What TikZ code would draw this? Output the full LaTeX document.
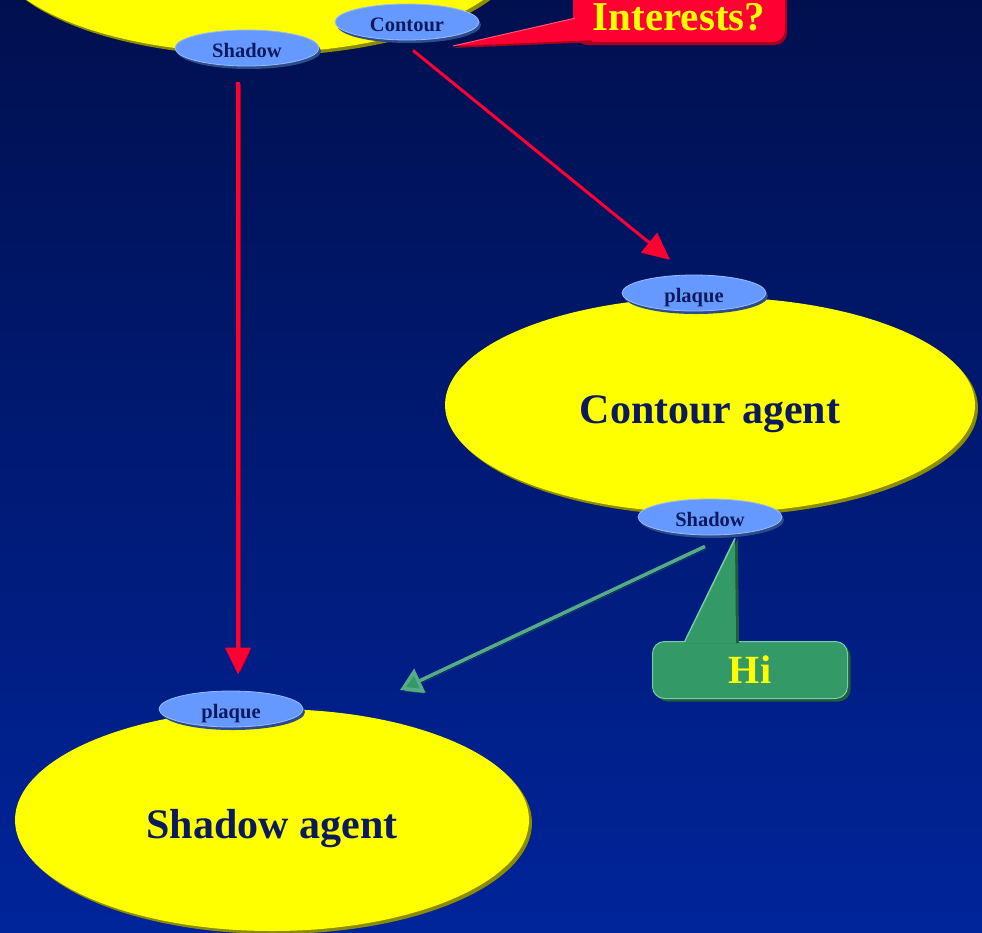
\documentclass[tikz,border=0pt]{standalone}
\usepackage{fontspec}
\setmainfont{Liberation Serif}
\usetikzlibrary{shapes.geometric,shadows,arrows.meta,calc}
\definecolor{bgtop}{HTML}{00104F}
\definecolor{bgbot}{HTML}{00249A}
\definecolor{agentyellow}{HTML}{FFFF00}
\definecolor{agentshade}{HTML}{8C8C00}
\definecolor{portblue}{HTML}{6699FF}
\definecolor{portlight}{HTML}{99BBFF}
\definecolor{portshade}{HTML}{2D4C8C}
\definecolor{inknavy}{HTML}{0B1A5C}
\definecolor{calloutred}{HTML}{FF0033}
\definecolor{redlight}{HTML}{FF5577}
\definecolor{redshade}{HTML}{A8001F}
\definecolor{calloutgreen}{HTML}{339966}
\definecolor{greenshade}{HTML}{1E5C3C}
\definecolor{greenlight}{HTML}{77CCAA}
\definecolor{greenline}{HTML}{55AA88}
\definecolor{textyellow}{HTML}{FFFF00}

\begin{document}
\begin{tikzpicture}[x=1pt,y=-1pt,
  agent/.style = {ellipse, fill=agentyellow, inner sep=0pt,
    text=inknavy, font=\fontsize{42}{50}\selectfont\bfseries,
    text height=37pt, text depth=0pt,
    drop shadow={shadow xshift=3pt, shadow yshift=-3pt, fill=agentshade, opacity=1}},
  port/.style = {ellipse, fill=portblue, draw=portlight, line width=0.8pt,
    minimum width=144pt, minimum height=36pt, inner sep=0pt,
    text=inknavy, font=\fontsize{20.5}{24}\selectfont\bfseries,
    text height=18pt, text depth=0pt,
    drop shadow={shadow xshift=2pt, shadow yshift=-3pt, fill=portshade, opacity=1}},
  redlink/.style = {draw=calloutred, line width=4pt,
    -{Triangle[length=27pt,width=25pt]},
    preaction={draw=redshade, transform canvas={xshift=2pt,yshift=-2pt}}},
  greenlink/.style = {draw=greenline, line width=3.5pt,
    -{Triangle[length=22pt,width=26pt,fill=calloutgreen]},
    preaction={draw=greenshade, transform canvas={xshift=1.5pt,yshift=-2.5pt}}},
  callout/.style = {rectangle, rounded corners=12pt, inner sep=0pt,
    text=textyellow, font=\fontsize{41}{48}\selectfont\bfseries}]

  \useasboundingbox (0,0) rectangle (982,932);
  \clip (0,0) rectangle (982,932);
  \shade[top color=bgtop, bottom color=bgbot] (0,0) rectangle (982,932);

  % agents
  \node[agent, minimum width=530pt, minimum height=216pt] (topagent) at (255,-55) {};
  \node[agent, minimum width=530pt, minimum height=216pt] (cagent) at (710,405) {Contour agent};
  \node[agent, minimum width=514pt, minimum height=222pt] (sagent) at (272,820) {Shadow agent};

  % ports
  \node[port] (tshadow)  at (247,48)  {Shadow};
  \node[port] (tcontour) at (407,22)  {Contour};
  \node[port] (cplaque)  at (694,293) {plaque};
  \node[port] (cshadow)  at (710,517) {Shadow};
  \node[port] (splaque)  at (231,709) {plaque};

  % links
  \draw[redlink] ([xshift=-9pt,yshift=-16pt]tshadow.south)
    -- ([xshift=7pt,yshift=16pt]splaque.north);
  \draw[redlink, line width=3pt] ([xshift=6pt,yshift=-10pt]tcontour.south)
    -- ([xshift=-24pt,yshift=15pt]cplaque.north);
  \coordinate (hiend) at (400,690);
  \draw[greenlink] ([xshift=-5pt,yshift=-11pt]cshadow.south) -- (hiend);

  % callouts
  \node[callout, fill=calloutred, minimum width=212pt, minimum height=56pt,
    text height=32pt, text depth=0pt,
    drop shadow={shadow xshift=2pt, shadow yshift=-3pt, fill=redshade, opacity=1}]
    (intbox) at (679,14) {Interests?};
  \coordinate (inttip) at (453,46);
  \fill[calloutred, preaction={fill=redshade, transform canvas={yshift=-2pt}}]
    ($(intbox.south west)+(2,-24)$) -- (inttip) -- ($(intbox.south west)+(20,-2)$) -- cycle;
  \draw[redlight, line width=1pt] ($(intbox.south west)+(2,-24)$) -- (inttip);

  \node[callout, fill=calloutgreen, draw=greenlight, line width=1pt,
    minimum width=195pt, minimum height=57pt, font=\fontsize{40}{48}\selectfont\bfseries,
    drop shadow={shadow xshift=3pt, shadow yshift=-3pt, fill=greenshade, opacity=1}]
    (hibox) at (750,670) {Hi};
  \coordinate (hitip) at ([xshift=25pt,yshift=-3pt]cshadow.south);
  \fill[calloutgreen, preaction={fill=greenshade, transform canvas={xshift=3pt}}]
    ($(hibox.north west)+(33,2)$) -- (hitip) -- ($(hibox.north west)+(84,2)$) -- cycle;
  \draw[greenlight, line width=1.5pt] ($(hibox.north west)+(33,0)$) -- (hitip);
\end{tikzpicture}
\end{document}
